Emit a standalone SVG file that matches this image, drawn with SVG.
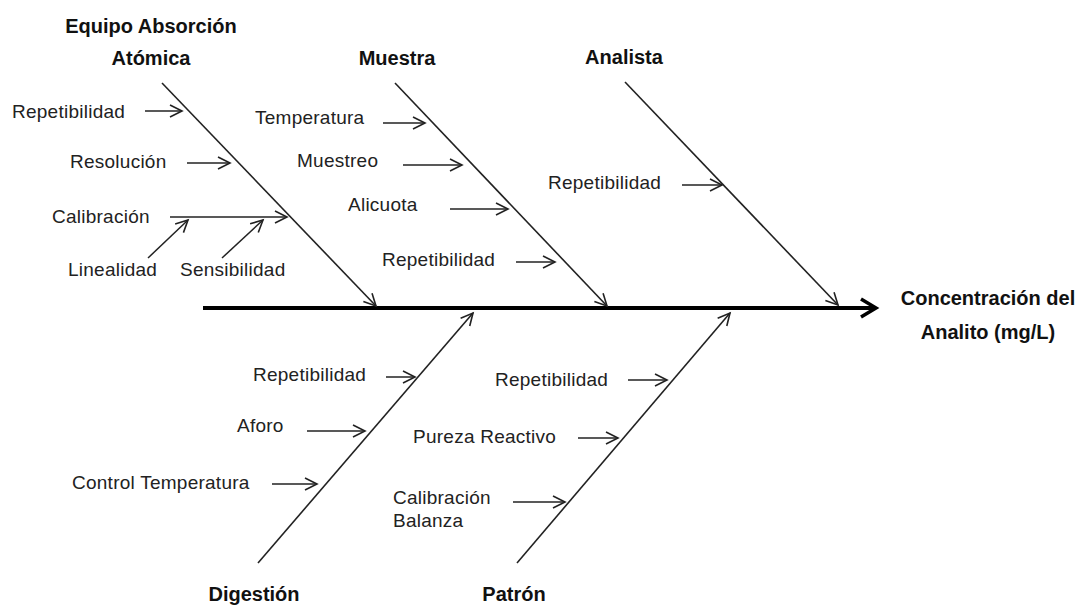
<svg xmlns="http://www.w3.org/2000/svg" width="1084" height="607" viewBox="0 0 1084 607">
<style>
.t{font-family:"Liberation Sans",Arial,sans-serif;font-size:19px;letter-spacing:0.25px;fill:#222}
.h{font-family:"Liberation Sans",Arial,sans-serif;font-size:20px;font-weight:bold;fill:#111;text-anchor:middle}
.b{stroke:#222;stroke-width:1.6;fill:none;marker-end:url(#a)}
.s{stroke:#222;stroke-width:1.5;fill:none;marker-end:url(#a)}
</style>
<defs>
<marker id="a" markerUnits="userSpaceOnUse" viewBox="-14 -8 16 16" markerWidth="16" markerHeight="16" refX="0" refY="0" orient="auto" overflow="visible">
<path d="M-12,-6 L0,0 L-12,6" fill="none" stroke="#222" stroke-width="1.6"/>
</marker>
<marker id="m" markerUnits="userSpaceOnUse" viewBox="-20 -12 24 24" markerWidth="24" markerHeight="24" refX="0" refY="0" orient="auto" overflow="visible">
<path d="M-15,-9 L0,0 L-15,9" fill="none" stroke="#000" stroke-width="3.5" stroke-linejoin="miter"/>
</marker>
</defs>
<rect width="1084" height="607" fill="#fff"/>
<g id="connectors">
<line x1="203" y1="308" x2="876" y2="308" stroke="#000" stroke-width="4" marker-end="url(#m)"/>
<line class="b" x1="162" y1="83" x2="376" y2="306"/>
<line class="b" x1="395" y1="83" x2="607" y2="306"/>
<line class="b" x1="625" y1="82" x2="838" y2="305"/>
<line class="b" x1="258" y1="563" x2="473" y2="313"/>
<line class="b" x1="517" y1="563" x2="730" y2="313"/>
<line class="s" x1="145" y1="111" x2="182" y2="111"/>
<line class="s" x1="187" y1="163" x2="230" y2="163"/>
<line class="s" x1="170" y1="217" x2="287" y2="217"/>
<line class="s" x1="148" y1="258" x2="188" y2="220"/>
<line class="s" x1="222" y1="258" x2="263" y2="220"/>
<line class="s" x1="383" y1="123" x2="425" y2="123"/>
<line class="s" x1="403" y1="165" x2="462" y2="165"/>
<line class="s" x1="450" y1="209" x2="508" y2="209"/>
<line class="s" x1="516" y1="262" x2="555" y2="262"/>
<line class="s" x1="682" y1="185" x2="722" y2="185"/>
<line class="s" x1="386" y1="377" x2="415" y2="377"/>
<line class="s" x1="307" y1="431" x2="365" y2="431"/>
<line class="s" x1="272" y1="484" x2="317" y2="484"/>
<line class="s" x1="628" y1="380" x2="667" y2="380"/>
<line class="s" x1="578" y1="438" x2="618" y2="438"/>
<line class="s" x1="513" y1="502" x2="565" y2="502"/>
</g>
<g id="equipo"><text class="h" x="151" y="33">Equipo Absorción</text><text class="h" x="151" y="65">Atómica</text></g>
<g id="muestra"><text class="h" x="397" y="65">Muestra</text></g>
<g id="analista"><text class="h" x="624" y="64">Analista</text></g>
<g id="efecto"><text class="h" x="988" y="305">Concentración del</text><text class="h" x="988" y="339">Analito (mg/L)</text></g>
<g id="digestion"><text class="h" x="254" y="601">Digestión</text></g>
<g id="patron"><text class="h" x="514" y="601">Patrón</text></g>
<g id="eq-repetibilidad"><text class="t" x="12" y="118">Repetibilidad</text></g>
<g id="eq-resolucion"><text class="t" x="70" y="168">Resolución</text></g>
<g id="eq-calibracion"><text class="t" x="52" y="223">Calibración</text></g>
<g id="eq-linealidad"><text class="t" x="68" y="276">Linealidad</text></g>
<g id="eq-sensibilidad"><text class="t" x="180" y="276">Sensibilidad</text></g>
<g id="mu-temperatura"><text class="t" x="255" y="124">Temperatura</text></g>
<g id="mu-muestreo"><text class="t" x="297" y="167">Muestreo</text></g>
<g id="mu-alicuota"><text class="t" x="348" y="211">Alicuota</text></g>
<g id="mu-repetibilidad"><text class="t" x="382" y="266">Repetibilidad</text></g>
<g id="an-repetibilidad"><text class="t" x="548" y="189">Repetibilidad</text></g>
<g id="di-repetibilidad"><text class="t" x="253" y="381">Repetibilidad</text></g>
<g id="di-aforo"><text class="t" x="237" y="432">Aforo</text></g>
<g id="di-control"><text class="t" x="72" y="489">Control Temperatura</text></g>
<g id="pa-repetibilidad"><text class="t" x="495" y="386">Repetibilidad</text></g>
<g id="pa-pureza"><text class="t" x="413" y="443">Pureza Reactivo</text></g>
<g id="pa-calibracion"><text class="t" x="393" y="504">Calibración</text><text class="t" x="393" y="527">Balanza</text></g>
</svg>
